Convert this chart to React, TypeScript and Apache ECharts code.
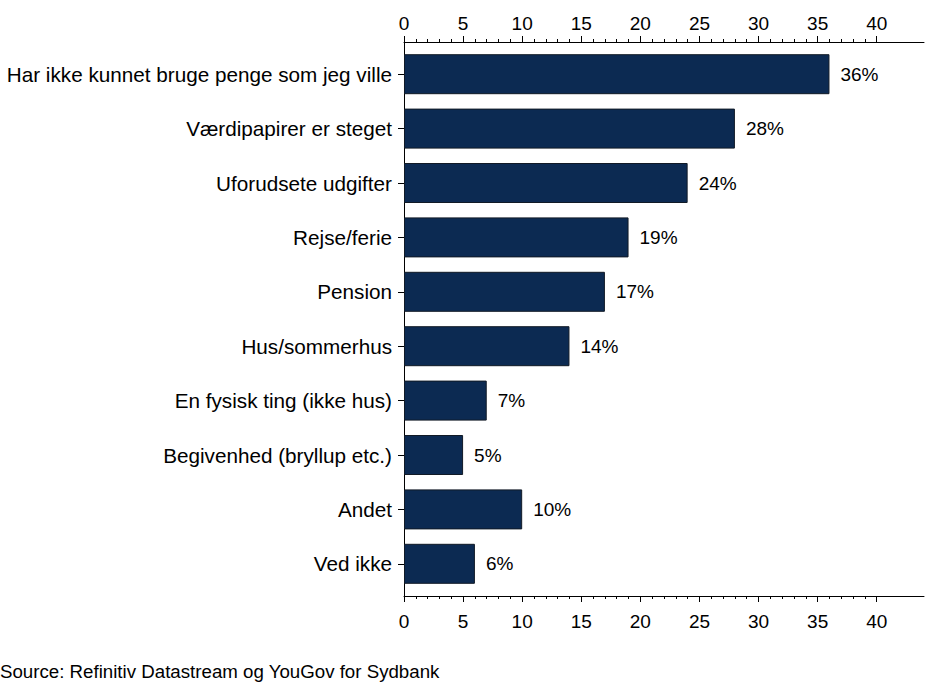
import React, { useEffect, useRef } from "react";
import * as echarts from "echarts";

const categories = [
  "Har ikke kunnet bruge penge som jeg ville",
  "Værdipapirer er steget",
  "Uforudsete udgifter",
  "Rejse/ferie",
  "Pension",
  "Hus/sommerhus",
  "En fysisk ting (ikke hus)",
  "Begivenhed (bryllup etc.)",
  "Andet",
  "Ved ikke",
];
const values = [36, 28, 24, 19, 17, 14, 7, 5, 10, 6];
const axisMin = 0;
const axisMax = 44;
const tickMax = 40;
const tickStep = 5;
const minorSplit = 5;
const sourceText = "Source: Refinitiv Datastream og YouGov for Sydbank";

const W = 936;
const H = 683;
const FONT = "'Liberation Sans', Arial, sans-serif";

export default function App() {
  const ref = useRef<HTMLDivElement>(null);
  useEffect(() => {
    document.body.style.margin = "0";
    const chart = echarts.init(ref.current!, null, { renderer: "svg" });
    const gridLeft = 404;
    const gridRight = 12;
    const frameTop = 42;
    const frameBottom = 87;
    const barTop = 47;
    const barBottom = 92;
    const gridWidth = W - gridLeft - gridRight;
    const tickGridWidth = (gridWidth * (tickMax - axisMin)) / (axisMax - axisMin);
    const black = "#000";
    const tickAxis = (position: string) => ({
      gridIndex: 2,
      type: "value",
      position,
      min: axisMin,
      max: tickMax,
      interval: tickStep,
      axisLine: { show: false, onZero: false },
      axisTick: { show: true, length: 6, lineStyle: { color: black, width: 1 } },
      minorTick: { show: true, splitNumber: minorSplit, length: 3, lineStyle: { color: black, width: 1 } },
      axisLabel: { show: true, fontSize: 19, color: black, fontFamily: FONT, margin: position === "top" ? 9 : 16 },
      splitLine: { show: false },
      minorSplitLine: { show: false },
    });
    const lineAxis = (position: string) => ({
      gridIndex: 1,
      type: "value",
      position,
      min: axisMin,
      max: axisMax,
      axisLine: { show: true, onZero: false, lineStyle: { color: black, width: 1 } },
      axisTick: { show: false },
      axisLabel: { show: false },
      splitLine: { show: false },
    });
    chart.setOption({
      animation: false,
      backgroundColor: "#fff",
      textStyle: { fontFamily: FONT },
      grid: [
        { left: gridLeft, right: gridRight, top: barTop, bottom: barBottom },
        { left: gridLeft, right: gridRight, top: frameTop, bottom: frameBottom },
        { left: gridLeft, width: tickGridWidth, top: frameTop, bottom: frameBottom },
      ],
      xAxis: [
        { gridIndex: 0, type: "value", min: axisMin, max: axisMax, show: false },
        lineAxis("top"),
        lineAxis("bottom"),
        tickAxis("top"),
        tickAxis("bottom"),
      ],
      yAxis: [
        {
          gridIndex: 0,
          type: "category",
          inverse: true,
          data: categories,
          axisLine: { show: false },
          axisTick: { show: true, alignWithLabel: true, length: 6, lineStyle: { color: black } },
          axisLabel: { fontSize: 20.7, color: black, fontFamily: FONT, margin: 12 },
        },
        {
          gridIndex: 1,
          type: "value",
          position: "left",
          min: 0,
          max: 1,
          axisLine: { show: true, onZero: false, lineStyle: { color: black, width: 1 } },
          axisTick: { show: false },
          axisLabel: { show: false },
          splitLine: { show: false },
        },
        { gridIndex: 2, type: "value", show: false },
      ],
      series: [
        {
          type: "bar",
          xAxisIndex: 0,
          yAxisIndex: 0,
          data: values,
          barWidth: 40,
          itemStyle: { color: "#0c2a52", borderColor: "#111a26", borderWidth: 1 },
          label: {
            show: true,
            position: "right",
            distance: 11,
            formatter: "{c}%",
            fontSize: 19,
            color: black,
            fontFamily: FONT,
          },
        },
      ],
      graphic: [
        {
          type: "text",
          left: 0,
          top: 662,
          style: { text: sourceText, fontSize: 18.7, fill: black, fontFamily: FONT },
        },
      ],
    });
    return () => chart.dispose();
  }, []);
  return <div ref={ref} style={{ width: W, height: H, position: "absolute", left: 0, top: 0 }} />;
}
